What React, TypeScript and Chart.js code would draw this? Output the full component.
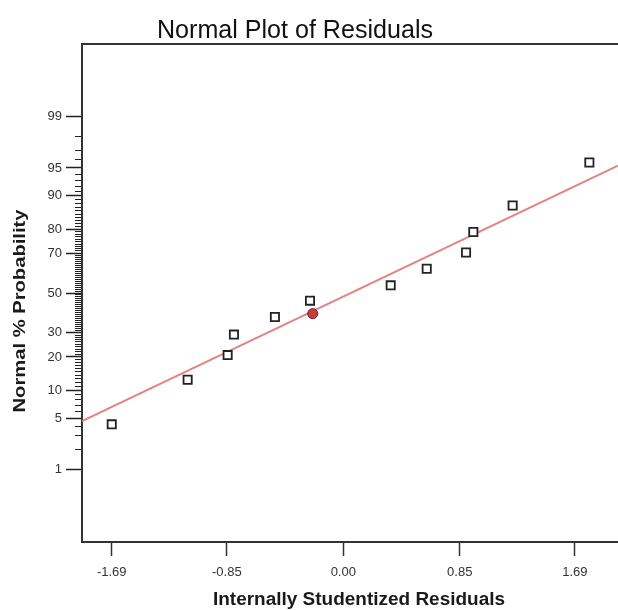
import React, { useEffect, useRef } from 'react';
import { Chart, registerables } from 'chart.js';

Chart.register(...registerables);

// ---- data ----
const residuals = [-1.69, -1.136, -0.844, -0.798, -0.499, -0.243, 0.346, 0.609, 0.896, 0.949, 1.236, 1.796];
const probabilities = [4.2, 12.7, 20.7, 29.2, 37.6, 46.0, 54.0, 62.5, 70.3, 78.9, 87.5, 95.7];
const highlightResidual = [-0.223];
const highlightProbability = [39.3];
const fitResidual = [-1.907, 2.005];
const fitProbability = [4.6, 95.3];
const xTickValues = [-1.69, -0.85, 0, 0.85, 1.69];
const yMajorTicks = [1, 5, 10, 20, 30, 50, 70, 80, 90, 95, 99];
const yMinorTicks = Array.from({ length: 99 }, (_, i) => i + 1);
const xRange = [-1.907, 2.005];
const zRange = [-3.276, 3.276];

const TITLE = 'Normal Plot of Residuals';
const X_TITLE = 'Internally Studentized Residuals';
const Y_TITLE = 'Normal % Probability';

// inverse normal CDF (probit) – the axis is a normal-probability scale
function probit(p: number): number {
  const a = [-3.969683028665376e1, 2.209460984245205e2, -2.759285104469687e2, 1.38357751867269e2, -3.066479806614716e1, 2.506628277459239];
  const b = [-5.447609879822406e1, 1.615858368580409e2, -1.556989798598866e2, 6.680131188771972e1, -1.328068155288572e1];
  const c = [-7.784894002430293e-3, -3.223964580411365e-1, -2.400758277161838, -2.549671348572908, 4.374664141464968, 2.938163982698783];
  const d = [7.784695709041462e-3, 3.224671290700398e-1, 2.445134137142996, 3.754408661907416];
  const pl = 0.02425;
  if (p < pl) {
    const q = Math.sqrt(-2 * Math.log(p));
    return (((((c[0] * q + c[1]) * q + c[2]) * q + c[3]) * q + c[4]) * q + c[5]) / ((((d[0] * q + d[1]) * q + d[2]) * q + d[3]) * q + 1);
  }
  if (p <= 1 - pl) {
    const q = p - 0.5;
    const r = q * q;
    return ((((((a[0] * r + a[1]) * r + a[2]) * r + a[3]) * r + a[4]) * r + a[5]) * q) / (((((b[0] * r + b[1]) * r + b[2]) * r + b[3]) * r + b[4]) * r + 1);
  }
  const q = Math.sqrt(-2 * Math.log(1 - p));
  return -(((((c[0] * q + c[1]) * q + c[2]) * q + c[3]) * q + c[4]) * q + c[5]) / ((((d[0] * q + d[1]) * q + d[2]) * q + d[3]) * q + 1);
}
const z = (pct: number) => probit(pct / 100);

const FONT = "'Liberation Sans', Arial, Helvetica, sans-serif";

function drawFitText(ctx: CanvasRenderingContext2D, text: string, x: number, y: number, font: string, targetW: number, rotate: boolean, color: string) {
  ctx.save();
  ctx.font = font;
  const w = ctx.measureText(text).width;
  ctx.translate(x, y);
  if (rotate) ctx.rotate(-Math.PI / 2);
  ctx.scale(targetW / w, 1);
  ctx.textAlign = 'center';
  ctx.textBaseline = 'alphabetic';
  ctx.fillStyle = color;
  ctx.fillText(text, 0, 0);
  ctx.restore();
}

const textPlugin = {
  id: 'textPlugin',
  afterDraw(chart: any) {
    const ctx = chart.ctx as CanvasRenderingContext2D;
    drawFitText(ctx, TITLE, 295, 37.5, `26px ${FONT}`, 276, false, '#111');
    drawFitText(ctx, X_TITLE, 359, 604.5, `bold 18px ${FONT}`, 292, false, '#1a1a1a');
    drawFitText(ctx, Y_TITLE, 25, 311, `bold 16px ${FONT}`, 203, true, '#1a1a1a');
  },
};

export default function App() {
  const ref = useRef<HTMLCanvasElement | null>(null);

  useEffect(() => {
    document.body.style.margin = '0';
    const canvas = ref.current;
    if (!canvas) return;

    const chart = new Chart(canvas, {
      type: 'scatter',
      data: {
        datasets: [
          {
            label: 'Residuals',
            data: residuals.map((r, i) => ({ x: r, y: z(probabilities[i]) })),
            pointStyle: 'rect',
            pointRadius: 5.8,
            pointBackgroundColor: '#ffffff',
            pointBorderColor: '#222222',
            pointBorderWidth: 1.8,
            showLine: false,
          },
          {
            label: 'Selected',
            data: highlightResidual.map((r, i) => ({ x: r, y: z(highlightProbability[i]) })),
            pointStyle: 'circle',
            pointRadius: 5,
            pointBackgroundColor: '#cc3b3b',
            pointBorderColor: '#6a1e1e',
            pointBorderWidth: 1,
            showLine: false,
          },
          {
            label: 'Fit',
            data: fitResidual.map((r, i) => ({ x: r, y: z(fitProbability[i]) })),
            showLine: true,
            borderColor: '#e38383',
            borderWidth: 2,
            pointRadius: 0,
            fill: false,
          },
        ],
      },
      options: {
        responsive: false,
        animation: false,
        devicePixelRatio: 1,
        layout: { autoPadding: false, padding: { top: 44, left: 0, right: 0, bottom: 0 } },
        plugins: { legend: { display: false }, tooltip: { enabled: false }, title: { display: false } },
        scales: {
          x: {
            type: 'linear',
            position: 'bottom',
            min: xRange[0],
            max: xRange[1],
            afterBuildTicks: (s: any) => {
              s.ticks = xTickValues.map((v) => ({ value: v }));
            },
            afterFit: (s: any) => {
              s.height = 68;
              s.paddingLeft = 0;
              s.paddingRight = 0;
            },
            ticks: {
              callback: (v: any) => Number(v).toFixed(2),
              font: { family: FONT, size: 13 },
              color: '#333',
              padding: 9,
              autoSkip: false,
              maxRotation: 0,
            },
            grid: { drawOnChartArea: false, drawTicks: true, tickLength: 14, tickColor: '#333', tickWidth: 1.5 },
            border: { display: true, color: '#333', width: 2 },
          },
          xTop: {
            type: 'linear',
            position: 'top',
            min: xRange[0],
            max: xRange[1],
            afterFit: (s: any) => {
              s.height = 0;
              s.paddingLeft = 0;
              s.paddingRight = 0;
            },
            ticks: { display: false },
            grid: { display: false },
            border: { display: true, color: '#333', width: 2 },
          },
          y: {
            type: 'linear',
            position: 'left',
            weight: 1,
            min: zRange[0],
            max: zRange[1],
            afterBuildTicks: (s: any) => {
              s.ticks = yMajorTicks.map((p) => ({ value: z(p) }));
            },
            afterFit: (s: any) => {
              s.width = 82;
              s.paddingTop = 0;
              s.paddingBottom = 0;
            },
            ticks: {
              callback: (_v: any, i: number) => String(yMajorTicks[i]),
              font: { family: FONT, size: 13 },
              color: '#333',
              padding: 4,
              autoSkip: false,
            },
            grid: { drawOnChartArea: false, drawTicks: true, tickLength: 16, tickColor: '#222', tickWidth: 1.5 },
            border: { display: true, color: '#333', width: 2 },
          },
          yMinor: {
            type: 'linear',
            position: 'left',
            weight: 0,
            min: zRange[0],
            max: zRange[1],
            afterBuildTicks: (s: any) => {
              s.ticks = yMinorTicks.map((p) => ({ value: z(p) }));
            },
            afterFit: (s: any) => {
              s.width = 0;
              s.paddingTop = 0;
              s.paddingBottom = 0;
            },
            ticks: { display: false },
            grid: { drawOnChartArea: false, drawTicks: true, tickLength: 7, tickColor: '#222', tickWidth: 1 },
            border: { display: false },
          },
        },
      },
      plugins: [textPlugin],
    } as any);

    return () => chart.destroy();
  }, []);

  return (
    <div style={{ width: 618, height: 610, background: '#fff' }}>
      <canvas ref={ref} width={618} height={610} style={{ display: 'block', width: 618, height: 610 }} />
    </div>
  );
}
